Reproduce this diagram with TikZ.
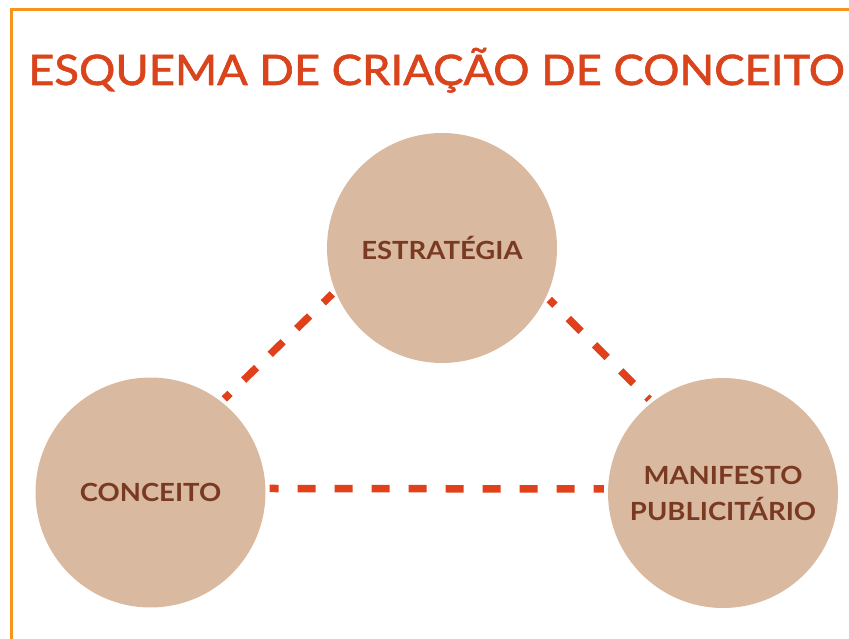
\documentclass[tikz,border=0pt]{standalone}
\usepackage{fontspec}
\setmainfont{Lato}
\newfontfamily\titlefont[FakeStretch=1.08,FakeBold=1.5]{Lato}
\newfontfamily\labelfont[FakeStretch=1.1]{Lato}
\definecolor{frameor}{HTML}{F7941D}
\definecolor{titler}{HTML}{D9441C}
\definecolor{dashr}{HTML}{E0401A}
\definecolor{tan}{HTML}{D9BAA1}
\definecolor{brownt}{HTML}{7A3A22}
\begin{document}
\begin{tikzpicture}[x=1pt,y=-1pt,
  bubble/.style={circle,fill=tan,inner sep=0pt,minimum size=230pt,text=brownt,font=\labelfont\fontsize{25}{36}\selectfont\bfseries,align=center},
  link/.style={draw=dashr,line width=7.5pt,dash pattern=on 18pt off 19pt,shorten <=4pt,shorten >=4pt}]
\useasboundingbox (0,0) rectangle (849,639);
\draw[frameor,line width=3pt] (11,645) -- (11,10) -- (855,10);
\node[anchor=base west,text=titler,inner sep=0pt,font=\titlefont\fontsize{42}{50}\selectfont] (title) at (28,85) {ESQUEMA DE CRIAÇÃO DE CONCEITO};
\node[bubble] (e) at (442,248) {ESTRATÉGIA};
\node[bubble] (c) at (150.5,492.5) {CONCEITO};
\node[bubble] (m) at (723,493) {MANIFESTO\\PUBLICITÁRIO};
\draw[link,dash phase=9pt] (c.2) -- (m.178);
\draw[link,dash phase=10pt] (c.52) -- (e.202);
\draw[link,dash phase=10pt] (e.335) -- (m.128);
\end{tikzpicture}
\end{document}
